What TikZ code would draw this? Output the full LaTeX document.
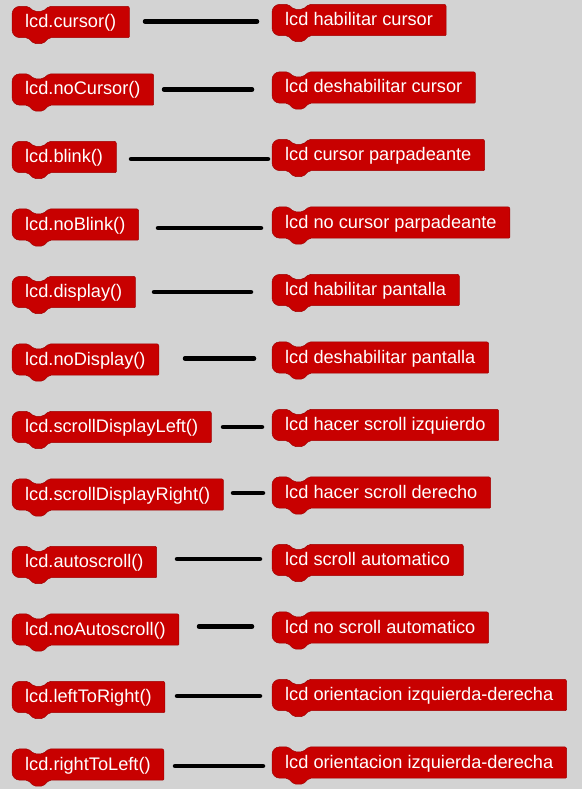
\documentclass[tikz,border=0pt]{standalone}
\usepackage{fontspec}
\setmainfont{Liberation Sans}
\usetikzlibrary{calc}

\definecolor{gris}{RGB}{211,211,211}
\definecolor{rojo}{RGB}{200,0,0}
\definecolor{borde}{RGB}{160,0,0}

\pgfdeclarelayer{capa}
\pgfsetlayers{capa,main}

% forma de bloque (muesca arriba, pestana abajo) detras del nodo
\newcommand{\bloque}[1]{%
    \begin{pgfonlayer}{capa}
    \filldraw[fill=rojo, draw=borde, line width=0.5pt, rounded corners=1pt]
        let \p1=(#1.north west), \p2=(#1.south east) in
        (\x2,\y1) -- (\x2,\y2)
        [rounded corners=2pt] -- (\x1+37pt,\y2) -- (\x1+31pt,\y2-6pt)
                              -- (\x1+22pt,\y2-6pt) -- (\x1+16pt,\y2)
        [rounded corners=8pt] -- (\x1,\y2) -- (\x1,\y1)
        [rounded corners=2pt] -- (\x1+16pt,\y1) -- (\x1+22pt,\y1-5pt)
                              -- (\x1+31pt,\y1-5pt) -- (\x1+37pt,\y1) -- cycle;
    \end{pgfonlayer}}

\begin{document}
\begin{tikzpicture}[x=1pt,y=-1pt]
    \tikzstyle{bloq}=[anchor=west, text=white, font=\fontsize{18.2}{20}\selectfont,
                      inner xsep=13pt, inner ysep=0pt, text height=14pt, text depth=3pt,
                      minimum height=31pt]
    \tikzstyle{linea}=[line width=4.5pt, line cap=round, black]

    \begin{pgfonlayer}{capa}
        \fill[gris] (0,0) rectangle (582,789);
    \end{pgfonlayer}

    % bloques de la izquierda
    \node[bloq] (izq1)  at (12,22)    {lcd.cursor()};
    \node[bloq] (izq2)  at (12,89.5)  {lcd.noCursor()};
    \node[bloq] (izq3)  at (12,157)   {lcd.blink()};
    \node[bloq] (izq4)  at (12,224.5) {lcd.noBlink()};
    \node[bloq] (izq5)  at (12,292)   {lcd.display()};
    \node[bloq] (izq6)  at (12,359.5) {lcd.noDisplay()};
    \node[bloq] (izq7)  at (12,427)   {lcd.scrollDisplayLeft()};
    \node[bloq] (izq8)  at (12,494.5) {lcd.scrollDisplayRight()};
    \node[bloq] (izq9)  at (12,562)   {lcd.autoscroll()};
    \node[bloq] (izq10) at (12,629.5) {lcd.noAutoscroll()};
    \node[bloq] (izq11) at (12,697)   {lcd.leftToRight()};
    \node[bloq] (izq12) at (12,764.5) {lcd.rightToLeft()};

    % bloques de la derecha
    \node[bloq] (der1)  at (272,20)    {lcd habilitar cursor};
    \node[bloq] (der2)  at (272,87.5)  {lcd deshabilitar cursor};
    \node[bloq] (der3)  at (272,155)   {lcd cursor parpadeante};
    \node[bloq] (der4)  at (272,222.5) {lcd no cursor parpadeante};
    \node[bloq] (der5)  at (272,290)   {lcd habilitar pantalla};
    \node[bloq] (der6)  at (272,357.5) {lcd deshabilitar pantalla};
    \node[bloq] (der7)  at (272,425)   {lcd hacer scroll izquierdo};
    \node[bloq] (der8)  at (272,492.5) {lcd hacer scroll derecho};
    \node[bloq] (der9)  at (272,560)   {lcd scroll automatico};
    \node[bloq] (der10) at (272,627.5) {lcd no scroll automatico};
    \node[bloq] (der11) at (272,695)   {lcd orientacion izquierda-derecha};
    \node[bloq] (der12) at (272,762.5) {lcd orientacion izquierda-derecha};

    \foreach \nodo in {izq1,izq2,izq3,izq4,izq5,izq6,izq7,izq8,izq9,izq10,izq11,izq12,
                       der1,der2,der3,der4,der5,der6,der7,der8,der9,der10,der11,der12}
        {\bloque{\nodo}}

    % extremos de las lineas
    \coordinate (a1)  at (145,21.5);  \coordinate (b1)  at (257,21.5);
    \coordinate (a2)  at (164,89.5);  \coordinate (b2)  at (252,89.5);
    \coordinate (a3)  at (131,159);   \coordinate (b3)  at (268,159);
    \coordinate (a4)  at (158,228);   \coordinate (b4)  at (261,228);
    \coordinate (a5)  at (154,292);   \coordinate (b5)  at (251,292);
    \coordinate (a6)  at (185,358.5); \coordinate (b6)  at (254,358.5);
    \coordinate (a7)  at (223,427);   \coordinate (b7)  at (262,427);
    \coordinate (a8)  at (233,493);   \coordinate (b8)  at (263,493);
    \coordinate (a9)  at (177,559);   \coordinate (b9)  at (260,559);
    \coordinate (a10) at (199,626.5); \coordinate (b10) at (252,626.5);
    \coordinate (a11) at (177,696);   \coordinate (b11) at (260,696);
    \coordinate (a12) at (175,766);   \coordinate (b12) at (263,766);

    \foreach \i in {1,...,12}
        {\draw[linea] (a\i) -- (b\i);}

\end{tikzpicture}
\end{document}
